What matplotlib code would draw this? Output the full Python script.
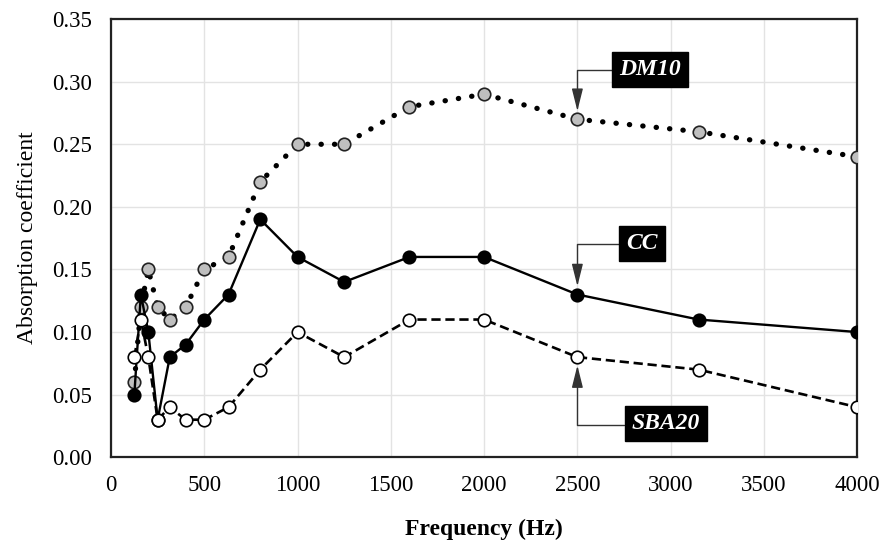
import numpy as np
import matplotlib
matplotlib.use("Agg")
import matplotlib.pyplot as plt

plt.rcParams['font.family'] = ['Liberation Serif', 'DejaVu Serif']

# 1/3 octave band centre frequencies (Hz)
freq = [125, 160, 200, 250, 315, 400, 500, 630, 800, 1000, 1250, 1600, 2000, 2500, 3150, 4000]

dm10 = [0.06, 0.12, 0.15, 0.12, 0.11, 0.12, 0.15, 0.16, 0.22, 0.25, 0.25, 0.28, 0.29, 0.27, 0.26, 0.24]
cc = [0.05, 0.13, 0.10, 0.03, 0.08, 0.09, 0.11, 0.13, 0.19, 0.16, 0.14, 0.16, 0.16, 0.13, 0.11, 0.10]
sba20 = [0.08, 0.11, 0.08, 0.03, 0.04, 0.03, 0.03, 0.04, 0.07, 0.10, 0.08, 0.11, 0.11, 0.08, 0.07, 0.04]

xticks = [0, 500, 1000, 1500, 2000, 2500, 3000, 3500, 4000]
yticks = [0.00, 0.05, 0.10, 0.15, 0.20, 0.25, 0.30, 0.35]

fig = plt.figure(figsize=(8.81, 5.45), dpi=100)
ax = fig.add_axes([0.126, 0.161, 0.847, 0.804])

ax.plot(freq, dm10, color='black', linestyle=(0, (0.05, 2.5)), linewidth=3.8,
        dash_capstyle='round', marker='o', markersize=9, markerfacecolor='#bfbfbf',
        markeredgecolor='#222222', markeredgewidth=1.2, zorder=3)
ax.plot(freq, cc, color='black', linestyle='-', linewidth=1.7,
        marker='o', markersize=9, markerfacecolor='black',
        markeredgecolor='black', markeredgewidth=1.2, zorder=4)
ax.plot(freq, sba20, color='black', linestyle=(0, (3.5, 1.8)), linewidth=1.9,
        marker='o', markersize=9, markerfacecolor='white',
        markeredgecolor='black', markeredgewidth=1.2, zorder=5)

ax.set_xlim(0, 4000)
ax.set_ylim(0, 0.35)
ax.set_xticks(xticks)
ax.set_yticks(yticks)
ax.set_yticklabels(['%.2f' % v for v in yticks])
ax.tick_params(axis='both', labelsize=16.5, length=0)
ax.tick_params(axis='y', pad=14)
ax.tick_params(axis='x', pad=13)
ax.grid(True, color='#e3e3e3', linewidth=1.0)
ax.set_axisbelow(True)
for s in ax.spines.values():
    s.set_linewidth(1.6)
    s.set_color('#222222')

ax.set_xlabel('Frequency (Hz)', fontsize=17, fontweight='bold', labelpad=16)
ax.set_ylabel('Absorption coefficient', fontsize=17, labelpad=10)

box = dict(boxstyle='square,pad=0.3', facecolor='black', edgecolor='black')
arrow = dict(arrowstyle='-|>,head_length=0.8,head_width=0.2', color='#333333',
             linewidth=1.0, connectionstyle='angle,angleA=0,angleB=90,rad=0',
             relpos=(0, 0.45), shrinkA=0, shrinkB=6)

labels = [('DM10', dm10[13], (2890, 0.310)),
          ('CC', cc[13], (2847, 0.171)),
          ('SBA20', sba20[13], (2976, 0.027))]
for name, val, pos in labels:
    ax.annotate(name, xy=(freq[13], val), xytext=pos, textcoords='data',
                fontsize=17, fontweight='bold', fontstyle='italic', color='white',
                ha='center', va='center', bbox=box, arrowprops=arrow, zorder=6)

fig.savefig('out.png', dpi=100)
